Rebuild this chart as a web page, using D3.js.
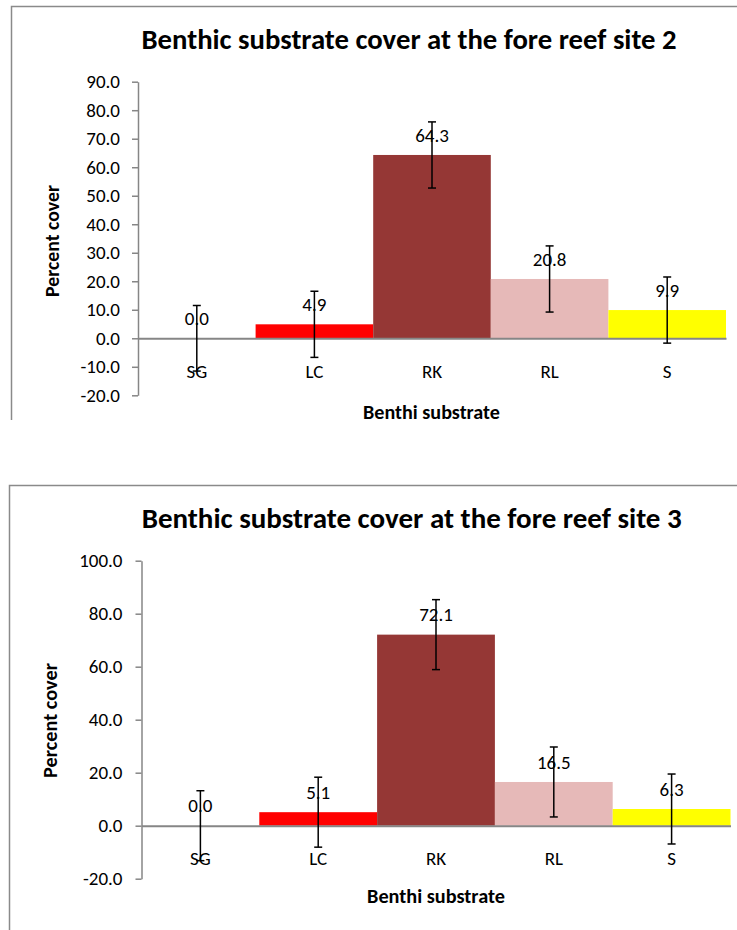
<!DOCTYPE html>
<html>
<head>
<meta charset="utf-8">
<script src="https://cdn.jsdelivr.net/npm/d3@7"></script>
<style>
  html, body { margin: 0; padding: 0; background: #fff; }
  svg { display: block; }
  text { font-family: Carlito, Lato, "Open Sans", sans-serif; }
</style>
</head>
<body>
<svg id="chart" width="737" height="930"></svg>
<script>
// ---------- data ----------
const categories = ["SG", "LC", "RK", "RL", "S"];
const barColors = ["#4F81BD", "#FF0000", "#953735", "#E6B9B8", "#FFFF00"];

const site2Title = "Benthic substrate cover at the fore reef site 2";
const site2Values = [0.0, 4.9, 64.3, 20.8, 9.9];
const site2Errors = [11.5, 11.6, 11.6, 11.6, 11.6];
const site2Ticks = [-20, -10, 0, 10, 20, 30, 40, 50, 60, 70, 80, 90];

const site3Title = "Benthic substrate cover at the fore reef site 3";
const site3Values = [0.0, 5.1, 72.1, 16.5, 6.3];
const site3Errors = [13.2, 13.2, 13.2, 13.2, 13.2];
const site3Ticks = [-20, 0, 20, 40, 60, 80, 100];

const yAxisTitle = "Percent cover";
const xAxisTitle = "Benthi substrate";

// ---------- drawing ----------
const svg = d3.select("#chart");
const fmt = d => d.toFixed(1);
const FONT = "Carlito, Lato, 'Open Sans', sans-serif";
const LABEL_SIZE = 19;

function fitWidth(sel, target) {
  const node = sel.node();
  const fs = parseFloat(sel.attr("font-size"));
  const len = node.getComputedTextLength();
  if (len > 0) sel.attr("font-size", (fs * target / len).toFixed(2));
}

function drawPanel(cfg) {
  const g = svg.append("g");

  // frame (clipped by the page)
  g.append("path")
    .attr("d", `M${cfg.frameX},${cfg.frameBottom} V${cfg.frameY} H740`)
    .attr("fill", "none")
    .attr("stroke", "#8a8a8a")
    .attr("stroke-width", 1.5);

  const x = d3.scaleBand().domain(categories).range([cfg.x0, cfg.x1]).padding(0);
  const y = d3.scaleLinear().domain([cfg.ticks[0], cfg.ticks[cfg.ticks.length - 1]]).range([cfg.yBottom, cfg.yTop]);

  // bars
  g.selectAll("rect.bar").data(categories).join("rect")
    .attr("class", "bar")
    .attr("x", d => x(d))
    .attr("width", x.bandwidth())
    .attr("y", (d, i) => y(Math.max(0, cfg.values[i])))
    .attr("height", (d, i) => Math.abs(y(cfg.values[i]) - y(0)))
    .attr("fill", (d, i) => barColors[i]);

  // y axis
  const yAxis = g.append("g")
    .attr("transform", `translate(${cfg.x0},0)`)
    .call(d3.axisLeft(y).tickValues(cfg.ticks).tickFormat(fmt).tickSize(6).tickSizeOuter(0).tickPadding(cfg.tickPad));
  yAxis.attr("font-size", LABEL_SIZE).attr("font-family", FONT);
  yAxis.select(".domain").attr("stroke", "#868686").attr("stroke-width", 1.5);
  yAxis.selectAll(".tick line").attr("stroke", "#868686").attr("stroke-width", 1.5);
  yAxis.selectAll(".tick text").attr("fill", "#000");

  // x axis at zero
  const xAxis = g.append("g")
    .attr("transform", `translate(0,${y(0)})`)
    .call(d3.axisBottom(x).tickSize(0).tickSizeOuter(0).tickPadding(cfg.xLabPad));
  xAxis.attr("font-size", LABEL_SIZE).attr("font-family", FONT);
  xAxis.select(".domain").attr("stroke", "#868686").attr("stroke-width", 2);
  xAxis.selectAll(".tick text").attr("fill", "#000");

  // error bars
  const eb = g.append("g").attr("stroke", "#000").attr("stroke-width", 1.5);
  categories.forEach((c, i) => {
    const cx = x(c) + x.bandwidth() / 2;
    const hi = y(cfg.values[i] + cfg.errors[i]);
    const lo = y(cfg.values[i] - cfg.errors[i]);
    eb.append("line").attr("x1", cx).attr("x2", cx).attr("y1", hi).attr("y2", lo);
    eb.append("line").attr("x1", cx - 4).attr("x2", cx + 4).attr("y1", hi).attr("y2", hi);
    eb.append("line").attr("x1", cx - 4).attr("x2", cx + 4).attr("y1", lo).attr("y2", lo);
  });

  // data labels
  g.selectAll("text.val").data(categories).join("text")
    .attr("class", "val")
    .attr("x", d => x(d) + x.bandwidth() / 2)
    .attr("y", (d, i) => y(cfg.values[i]) - 20)
    .attr("dy", "0.35em")
    .attr("text-anchor", "middle")
    .attr("font-size", LABEL_SIZE)
    .attr("fill", "#000")
    .text((d, i) => fmt(cfg.values[i]));

  // title
  const t = g.append("text")
    .attr("x", cfg.titleX).attr("y", cfg.titleY).attr("dy", "0.35em")
    .attr("text-anchor", "middle").attr("font-weight", "bold")
    .attr("font-size", 26).attr("fill", "#000")
    .text(cfg.title);
  fitWidth(t, cfg.titleW);

  // y axis title
  const yt = g.append("text")
    .attr("transform", `translate(${cfg.yTitleX},${cfg.yTitleY}) rotate(-90)`)
    .attr("dy", "0.35em").attr("text-anchor", "middle").attr("font-weight", "bold")
    .attr("font-size", 17).attr("fill", "#000")
    .text(yAxisTitle);
  fitWidth(yt, cfg.yTitleW);

  // x axis title
  const xt = g.append("text")
    .attr("x", cfg.xTitleX).attr("y", cfg.xTitleY).attr("dy", "0.35em")
    .attr("text-anchor", "middle").attr("font-weight", "bold")
    .attr("font-size", 17).attr("fill", "#000")
    .text(xAxisTitle);
  fitWidth(xt, cfg.xTitleW);
}

drawPanel({
  title: site2Title, values: site2Values, errors: site2Errors, ticks: site2Ticks,
  frameX: 11.5, frameY: 6.5, frameBottom: 420,
  x0: 138, x1: 726, yTop: 81.7, yBottom: 395.3,
  tickPad: 12, xLabPad: 26,
  titleX: 409, titleY: 39, titleW: 535,
  yTitleX: 52, yTitleY: 241, yTitleW: 112,
  xTitleX: 431.5, xTitleY: 412, xTitleW: 137
});

drawPanel({
  title: site3Title, values: site3Values, errors: site3Errors, ticks: site3Ticks,
  frameX: 9.5, frameY: 485.5, frameBottom: 935,
  x0: 141.5, x1: 730.5, yTop: 560.7, yBottom: 878.7,
  tickPad: 13, xLabPad: 26,
  titleX: 411.7, titleY: 518.3, titleW: 540,
  yTitleX: 50, yTitleY: 720.5, yTitleW: 115,
  xTitleX: 436, xTitleY: 896, xTitleW: 138
});
</script>
</body>
</html>
